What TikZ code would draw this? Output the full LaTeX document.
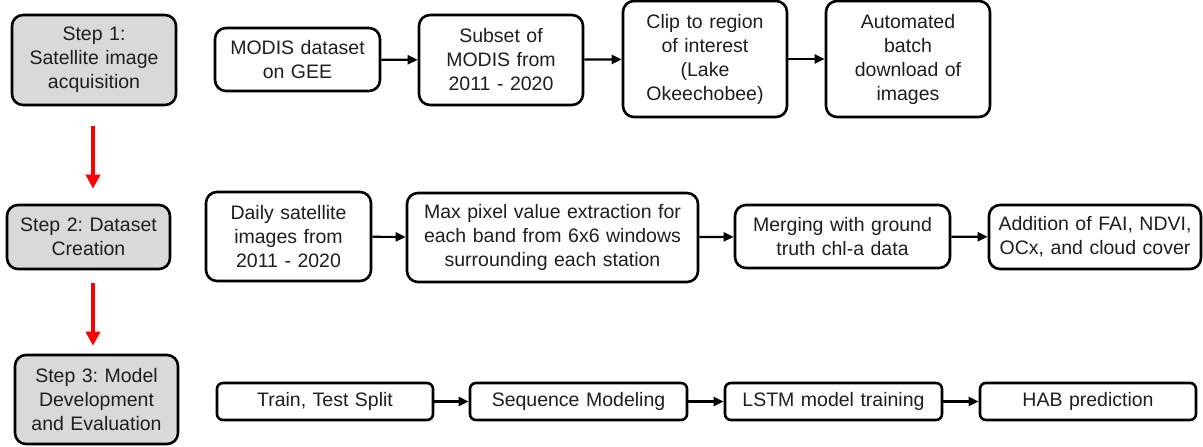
\documentclass[tikz,border=0pt]{standalone}
\usepackage{fontspec}
\setmainfont{Liberation Sans}
\usetikzlibrary{arrows.meta}
\frenchspacing
\definecolor{txt}{HTML}{1E1E1E}
\definecolor{stepfill}{HTML}{D9D9D9}
\tikzset{
  box/.style={draw=black, line width=2.6pt, rounded corners=11pt, fill=white,
    inner sep=0pt, align=center, text=txt,
    font=\fontsize{19.5pt}{24pt}\selectfont},
  stepbox/.style={box, fill=stepfill},
  flat/.style={box, rounded corners=6pt},
  flow/.style={-{Triangle[length=10pt,width=9pt]}, line width=2.2pt, black},
  redflow/.style={-{Triangle[length=14pt,width=14pt]}, line width=4pt, red},
}
\newcommand{\bx}[6]{\node[#1, minimum width=#4pt, minimum height=#5pt, text width=#4pt-8pt] (#6) at (#2,#3)}
\begin{document}
\begin{tikzpicture}[x=1pt,y=-1pt]
\useasboundingbox (0,0) rectangle (1203,447);
% steps
\bx{stepbox}{94}{60}{164}{90}{s1} {Step 1:\\Satellite image\\acquisition};
\bx{stepbox}{88.5}{237}{163}{64}{s2} {Step 2: Dataset\\Creation};
\bx{stepbox}{96.5}{399.5}{163}{89}{s3} {Step 3: Model\\Development\\and Evaluation};
% row 1
\bx{box}{297.5}{59.5}{165}{63}{a1} {MODIS dataset\\on GEE};
\bx{box}{501}{60}{164}{90}{a2} {Subset of\\MODIS from\\2011 - 2020};
\bx{box}{705}{59}{164}{116}{a3} {Clip to region\\of interest\\(Lake\\Okeechobee)};
\bx{box}{908}{59}{164}{116}{a4} {Automated\\batch\\download of\\images};
% row 2
\bx{box}{288.5}{236.5}{165}{89}{b1} {Daily satellite\\images from\\2011 - 2020};
\bx{box}{552.5}{237.5}{291}{89}{b2} {Max pixel value extraction for\\each band from 6x6 windows\\surrounding each station};
\bx{box}{842.5}{236.5}{215}{63}{b3} {Merging with ground\\truth chl-a data};
\bx{box}{1095}{237}{212}{64}{b4} {Addition of FAI, NDVI,\\OCx, and cloud cover};
% row 3
\bx{flat}{325}{401.5}{216}{37}{c1} {Train, Test Split};
\bx{flat}{578.5}{401.5}{217}{37}{c2} {Sequence Modeling};
\bx{flat}{833.5}{401.5}{217}{37}{c3} {LSTM model training};
\bx{flat}{1088}{401.5}{216}{37}{c4} {HAB prediction};
% arrows
\draw[flow] (a1) -- (a2);
\draw[flow] (a2) -- (a3);
\draw[flow] (a3) -- (a4);
\draw[flow] (b1) -- (b2);
\draw[flow] (b2) -- (b3);
\draw[flow] (b3) -- (b4);
\draw[flow] (c1) -- (c2);
\draw[flow] (c2) -- (c3);
\draw[flow] (c3) -- (c4);
\draw[redflow, shorten <=20pt, shorten >=15pt] ([xshift=-1pt]s1.south) -- ([xshift=-1pt]s1.south |- s2.north);
\draw[redflow, shorten <=13pt, shorten >=8pt] ([xshift=4.5pt]s2.south) -- ([xshift=4.5pt]s2.south |- s3.north);
\end{tikzpicture}
\end{document}
